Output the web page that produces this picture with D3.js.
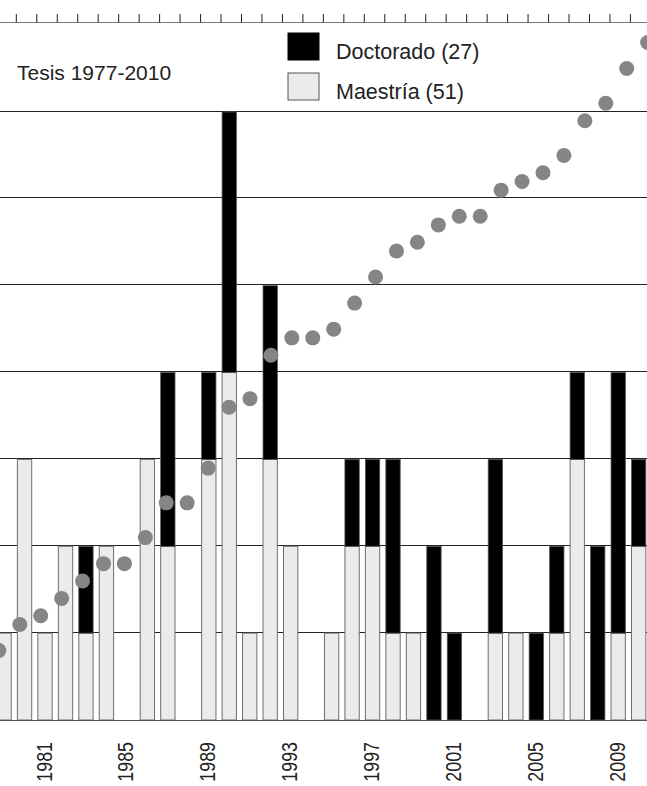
<!DOCTYPE html>
<html><head><meta charset="utf-8">
<script src="https://cdn.jsdelivr.net/npm/d3@7"></script>
<style>
html,body{margin:0;padding:0;background:#fff;}
svg{display:block;}
text{font-family:"Liberation Sans",Arial,Helvetica,sans-serif;}
</style></head><body>
<svg id="chart" width="647" height="786"></svg>
<script>
const years = [1977,1978,1979,1980,1981,1982,1983,1984,1985,1986,1987,1988,1989,1990,1991,1992,1993,1994,1995,1996,1997,1998,1999,2000,2001,2002,2003,2004,2005,2006,2007,2008,2009,2010];
const maestria = [4,3,1,3,1,2,1,2,0,3,2,0,3,4,1,3,2,0,1,2,2,1,1,0,0,0,1,1,0,1,3,0,1,2];
const doctorado = [0,0,0,0,0,0,1,0,0,0,2,0,1,3,0,2,0,0,0,1,1,2,0,2,1,0,2,0,1,1,1,2,3,1];
const acumulado = [4,7,8,11,12,14,16,18,18,21,25,25,29,36,37,42,44,44,45,48,51,54,55,57,58,58,61,62,63,65,69,71,75,78];
const yearLabels = [1981,1985,1989,1993,1997,2001,2005,2009];
const gridValues = [1,2,3,4,5,6,7];
const titleText = "Tesis 1977-2010";
const legendLabels = ["Doctorado (27)","Maestría (51)"];
const legendColors = ["#000000","#ebebeb"];

const W = 647, H = 786;
const svg = d3.select("#chart");

const x = d3.scaleBand().domain(years).range([-47.1, 648.9]).paddingInner(0.3).paddingOuter(0.15);
const y = d3.scaleLinear().domain([0, 7]).range([720, 112]);
const yCum = d3.scaleLinear().domain([0, 70]).range([720, 112]);
const xDot = d3.scaleLinear().domain([1981, 2009]).range([40.7, 626.7]);

// gridlines
svg.append("g").selectAll("line").data(gridValues).join("line")
  .attr("x1", 0).attr("x2", W)
  .attr("y1", d => Math.floor(y(d)) - 0.5).attr("y2", d => Math.floor(y(d)) - 0.5)
  .attr("stroke", "#222").attr("stroke-width", 1);

// bars
const rows = years.map((yr, i) => ({year: yr, m: maestria[i], d: doctorado[i]}));
const gBars = svg.append("g");
gBars.selectAll("rect.m").data(rows.filter(r => r.m > 0)).join("rect")
  .attr("class", "m")
  .attr("x", r => x(r.year)).attr("width", x.bandwidth())
  .attr("y", r => y(r.m)).attr("height", r => y(0) - y(r.m))
  .attr("fill", "#ebebeb").attr("stroke", "#6e6e6e").attr("stroke-width", 1);
gBars.selectAll("rect.d").data(rows.filter(r => r.d > 0)).join("rect")
  .attr("class", "d")
  .attr("x", r => x(r.year)).attr("width", x.bandwidth())
  .attr("y", r => y(r.m + r.d)).attr("height", r => y(r.m) - y(r.m + r.d))
  .attr("fill", "#000").attr("stroke", "#555").attr("stroke-width", 0.8);

// baseline
svg.append("line").attr("x1", 0).attr("x2", W).attr("y1", y(0) + 0.5).attr("y2", y(0) + 0.5)
  .attr("stroke", "#555").attr("stroke-width", 1);

// cumulative dots
svg.append("g").selectAll("circle").data(years.map((yr, i) => ({year: yr, c: acumulado[i]}))).join("circle")
  .attr("cx", d => xDot(d.year)).attr("cy", d => yCum(d.c)).attr("r", 7.5)
  .attr("fill", "#858585");

// top axis with ticks at year boundaries
const topY = 22.5;
svg.append("line").attr("x1", 0).attr("x2", W).attr("y1", topY).attr("y2", topY)
  .attr("stroke", "#777").attr("stroke-width", 1.2);
svg.append("g").selectAll("line").data(years).join("line")
  .attr("x1", d => x(d) + x.bandwidth() + x.step() * 0.15 + 2)
  .attr("x2", d => x(d) + x.bandwidth() + x.step() * 0.15 + 2)
  .attr("y1", 14).attr("y2", topY)
  .attr("stroke", "#222").attr("stroke-width", 1);

// year labels
svg.append("g").selectAll("text").data(yearLabels).join("text")
  .attr("transform", d => `translate(${x(d) + x.bandwidth() / 2 - 1},742) rotate(-90) scale(0.83,1)`)
  .attr("text-anchor", "end").attr("dy", "0.35em")
  .attr("font-size", 21.5).attr("fill", "#222").text(d => d);

// title and legend
svg.append("text").attr("x", 17).attr("y", 80).attr("font-size", 21).attr("fill", "#222").text(titleText);
const lg = svg.append("g").selectAll("g").data(legendLabels).join("g")
  .attr("transform", (d, i) => `translate(288,${33 + i * 40})`);
lg.append("rect").attr("width", 31).attr("height", 27)
  .attr("fill", (d, i) => legendColors[i]).attr("stroke", (d, i) => i ? "#555" : "#000").attr("stroke-width", 1);
lg.append("text").attr("x", 48).attr("y", 26).attr("font-size", 21.5).attr("fill", "#222").text(d => d);
</script>
</body></html>
